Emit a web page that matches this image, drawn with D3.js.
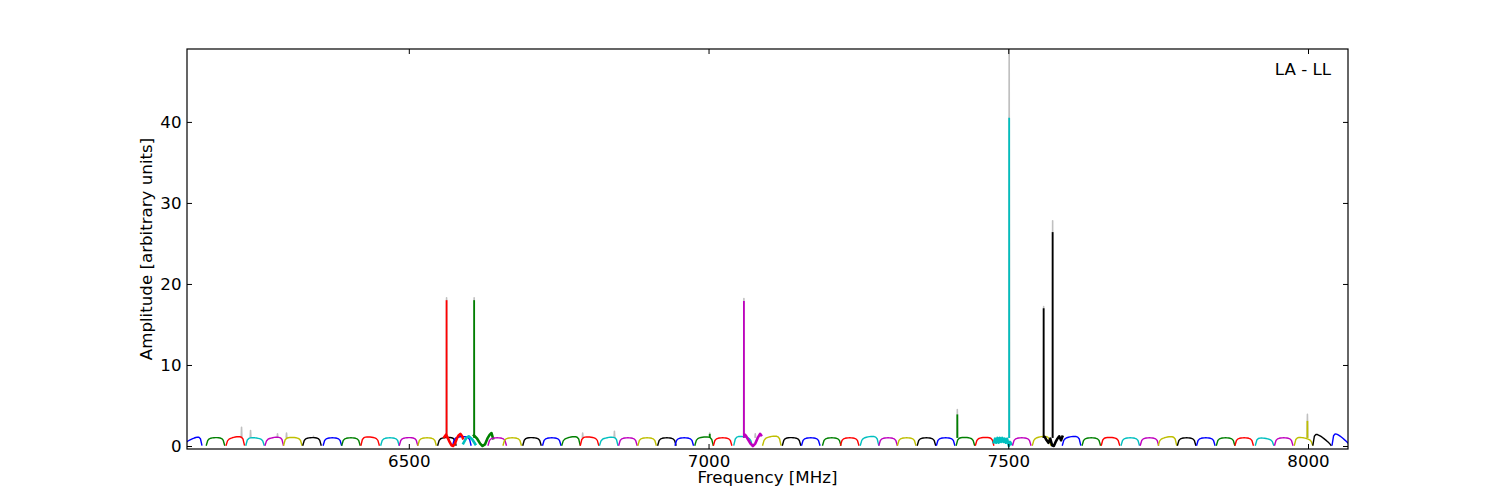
<!DOCTYPE html>
<html>
<head>
<meta charset="utf-8">
<script src="https://cdn.jsdelivr.net/npm/d3@7"></script>
<style>
body { margin: 0; background: #fff; }
text { font-family: "DejaVu Sans", sans-serif; }
</style>
</head>
<body>
<div id="chart"></div>
<script>
// matplotlib classic colour cycle, windows take them in turn
const colorCycle = ['#0000ff', '#008000', '#ff0000', '#00bfbf', '#bf00bf', '#bfbf00', '#000000'];

// start frequency of each spectral window [MHz]
const winStart = [
    6124, 6162, 6195, 6228, 6260, 6291, 6323, 6357, 6388, 6420,
    6453, 6484, 6515, 6548, 6573, 6607, 6558, 6590, 6632, 6657,
    6690, 6723, 6755, 6786, 6818, 6850, 6882, 6915, 6944, 6977,
    7008, 7042, 7058, 7090, 7123, 7155, 7190, 7220, 7253, 7284,
    7315, 7348, 7380, 7413, 7445, 7475, 7507, 7540, 7557, 7590,
    7623, 7655, 7688, 7720, 7750, 7782, 7814, 7847, 7878, 7912,
    7944, 7977, 8008, 8040
];
const bandWidth = 31;

// level at the low / high edge of each window
const winLevelL = [
    0.4, 1.0, 0.9, 1.1, 0.9, 1.1, 1.0, 1.0, 1.0, 1.2,
    1.0, 1.0, 1.0, 1.0, 1.1, 1.0, 1.0, 1.0, 1.0, 1.0,
    1.05, 1.0, 0.9, 1.2, 0.9, 1.0, 1.0, 1.0, 1.0, 1.0,
    1.0, 1.3, 1.0, 1.0, 1.05, 1.0, 1.0, 1.0, 1.0, 1.0,
    1.0, 1.0, 1.0, 1.1, 1.0, 1.0, 1.0, 1.0, 1.0, 1.0,
    1.0, 1.1, 1.0, 1.0, 0.9, 1.0, 1.0, 1.0, 1.0, 1.1,
    1.0, 1.2, 1.9, 2.0
];
const winLevelR = [
    1.4, 1.05, 1.3, 0.9, 1.2, 1.0, 1.05, 1.0, 1.0, 1.0,
    1.0, 1.05, 1.0, 1.1, 1.2, 1.0, 1.0, 1.0, 1.0, 1.0,
    1.0, 1.0, 1.3, 1.0, 1.2, 1.0, 1.0, 1.0, 1.0, 1.2,
    1.0, 1.0, 1.0, 1.35, 1.0, 1.0, 1.0, 1.0, 1.3, 1.0,
    1.0, 1.0, 1.0, 1.0, 1.1, 1.0, 1.0, 1.3, 1.0, 1.3,
    1.0, 1.0, 1.0, 1.0, 1.3, 1.0, 1.0, 1.0, 1.0, 0.8,
    1.0, 0.8, 0.25, 0.2
];

// bandpass shape across one window (relative)
const bandShape = [0.03, 0.68, 0.88, 0.95, 0.98, 1.0, 1.01, 1.0, 0.98, 0.95, 0.88, 0.68, 0.03];

// windows with lines in them, read point by point [MHz, amplitude]
const redDipPts = [[6558, 1.0], [6562, 1.4], [6565, 1.0], [6568, 0.5], [6571, 0.1], [6574, 0.0],
    [6577, 0.3], [6580, 0.9], [6583, 1.3], [6586, 1.5], [6589, 1.2], [6591, 0.8]];
const greenDipPts = [[6607, 1.4], [6610, 1.2], [6614, 0.9], [6619, 0.3], [6623, 0.0], [6627, 0.2],
    [6631, 0.9], [6635, 1.4], [6638, 1.6], [6641, 0.8]];
const cyanCrossPts = [[6590, 0.2], [6596, 1.0], [6600, 1.2], [6606, 0.8], [6612, 0.1]];
const magentaDipPts = [[7059, 1.5], [7062, 1.3], [7066, 0.8], [7070, 0.3], [7074, 0.0], [7078, 0.3],
    [7082, 1.0], [7086, 1.5], [7089, 1.2]];
const cyanRipplePts = [[7475, 0.3], [7478, 0.9], [7480, 0.4], [7482, 1.0], [7484, 0.4], [7486, 1.0],
    [7488, 0.5], [7490, 1.0], [7492, 0.5], [7494, 0.9], [7496, 0.4], [7498, 0.9], [7501, 0.0],
    [7503, 0.5], [7506, 0.1]];
const blackDipPts = [[7558, 1.2], [7561, 1.1], [7564, 0.7], [7567, 0.4], [7570, 0.9], [7573, 0.1],
    [7576, 0.0], [7579, 0.5], [7582, 0.9], [7585, 1.2], [7588, 0.7], [7591, 1.3]];
const specialWin = [16, 15, 17, 32, 45, 48];
const specialPts = [redDipPts, greenDipPts, cyanCrossPts, magentaDipPts, cyanRipplePts, blackDipPts];

// narrow lines (coloured) and the grey series peaks behind them
const spikeFreq = [6563, 6609, 7059, 7415, 7501.5, 7559, 7574, 7999, 7002];
const spikeHeight = [18.0, 18.0, 17.9, 3.9, 40.5, 17.0, 26.4, 3.1, 1.5];
const spikeWin = [16, 15, 32, 43, 45, 48, 48, 61, 29];

const greyFreq = [6221, 6236, 6281, 6296, 6341, 6563, 6609, 6790, 6843, 7002, 7059, 7078, 7415, 7501.5, 7559, 7574, 7999];
const greyHeight = [2.3, 1.9, 1.5, 1.6, 1.2, 18.3, 18.3, 1.6, 1.8, 1.6, 18.2, 1.5, 4.5, 52, 17.2, 27.8, 3.9];

const xTicks = [6500, 7000, 7500, 8000];
const yTicks = [0, 10, 20, 30, 40];

const chartWidth = 1500;
const chartHeight = 500;
const plotLeft = 187, plotRight = 1348, plotTop = 49, plotBottom = 449;
const fontSize = '16.67px';

const xScale = d3.scaleLinear()
    .domain([6130, 8066.7])
    .range([plotLeft, plotRight]);

const yScale = d3.scaleLinear()
    .domain([-0.37, 49.0])
    .range([plotBottom, plotTop]);

const svg = d3.select('#chart')
    .append('svg')
    .attr('width', chartWidth)
    .attr('height', chartHeight);

svg.append('clipPath')
    .attr('id', 'plot-clip')
    .append('rect')
    .attr('x', plotLeft)
    .attr('y', plotTop)
    .attr('width', plotRight - plotLeft)
    .attr('height', plotBottom - plotTop);

const line = d3.line()
    .x(d => xScale(d[0]))
    .y(d => yScale(d[1]));

function windowPoints(i) {
    const s = specialWin.indexOf(i);
    if (s >= 0) return specialPts[s];
    const n = bandShape.length;
    return bandShape.map((v, k) => {
        const t = k / (n - 1);
        return [winStart[i] + bandWidth * t, v * (winLevelL[i] + (winLevelR[i] - winLevelL[i]) * t)];
    });
}

const plot = svg.append('g').attr('clip-path', 'url(#plot-clip)');

// grey series first so the coloured data sits on top
plot.append('g')
    .selectAll('path')
    .data(greyFreq.map((f, i) => [[f - 0.6, 1.0], [f, greyHeight[i]], [f + 0.6, 1.0]]))
    .enter()
    .append('path')
    .attr('d', line)
    .attr('fill', 'none')
    .attr('stroke', '#c0c0c0')
    .attr('stroke-width', 1.6)
    .attr('stroke-linejoin', 'round');

plot.append('g')
    .selectAll('path')
    .data(winStart.map((f, i) => i))
    .enter()
    .append('path')
    .attr('d', i => line(windowPoints(i)))
    .attr('fill', 'none')
    .attr('stroke', i => colorCycle[i % 7])
    .attr('stroke-width', i => specialWin.includes(i) ? 2.6 : 1.4)
    .attr('stroke-linejoin', 'round');

plot.append('g')
    .selectAll('path')
    .data(spikeFreq.map((f, i) => i))
    .enter()
    .append('path')
    .attr('d', i => line([[spikeFreq[i], 1.0], [spikeFreq[i], spikeHeight[i]]]))
    .attr('fill', 'none')
    .attr('stroke', i => colorCycle[spikeWin[i] % 7])
    .attr('stroke-width', 1.8);

// axes, ticks pointing inwards like matplotlib classic
function styleAxis(g) {
    g.select('.domain').remove();
    g.selectAll('line').attr('stroke', '#000');
    g.selectAll('text').attr('fill', '#000').style('font-size', fontSize).attr('font-family', 'DejaVu Sans');
}

svg.append('g')
    .attr('transform', 'translate(0,' + plotBottom + ')')
    .call(d3.axisBottom(xScale).tickValues(xTicks).tickSize(-5).tickPadding(6).tickFormat(d3.format('d')))
    .call(styleAxis);

svg.append('g')
    .attr('transform', 'translate(0,' + plotTop + ')')
    .call(d3.axisTop(xScale).tickValues(xTicks).tickSize(-5).tickFormat(''))
    .call(styleAxis);

svg.append('g')
    .attr('transform', 'translate(' + plotLeft + ',0)')
    .call(d3.axisLeft(yScale).tickValues(yTicks).tickSize(-5).tickPadding(5.5))
    .call(styleAxis);

svg.append('g')
    .attr('transform', 'translate(' + plotRight + ',0)')
    .call(d3.axisRight(yScale).tickValues(yTicks).tickSize(-5).tickFormat(''))
    .call(styleAxis);

svg.append('rect')
    .attr('x', plotLeft)
    .attr('y', plotTop)
    .attr('width', plotRight - plotLeft)
    .attr('height', plotBottom - plotTop)
    .attr('fill', 'none')
    .attr('stroke', '#000')
    .attr('stroke-width', 1.2);

svg.append('text')
    .attr('x', (plotLeft + plotRight) / 2)
    .attr('y', 483)
    .attr('text-anchor', 'middle')
    .style('font-size', fontSize)
    .text('Frequency [MHz]');

svg.append('text')
    .attr('transform', 'translate(152,' + (plotTop + plotBottom) / 2 + ') rotate(-90)')
    .attr('text-anchor', 'middle')
    .style('font-size', fontSize)
    .text('Amplitude [arbitrary units]');

svg.append('text')
    .attr('x', 1331)
    .attr('y', 75)
    .attr('text-anchor', 'end')
    .style('font-size', fontSize)
    .text('LA - LL');
</script>
</body>
</html>
